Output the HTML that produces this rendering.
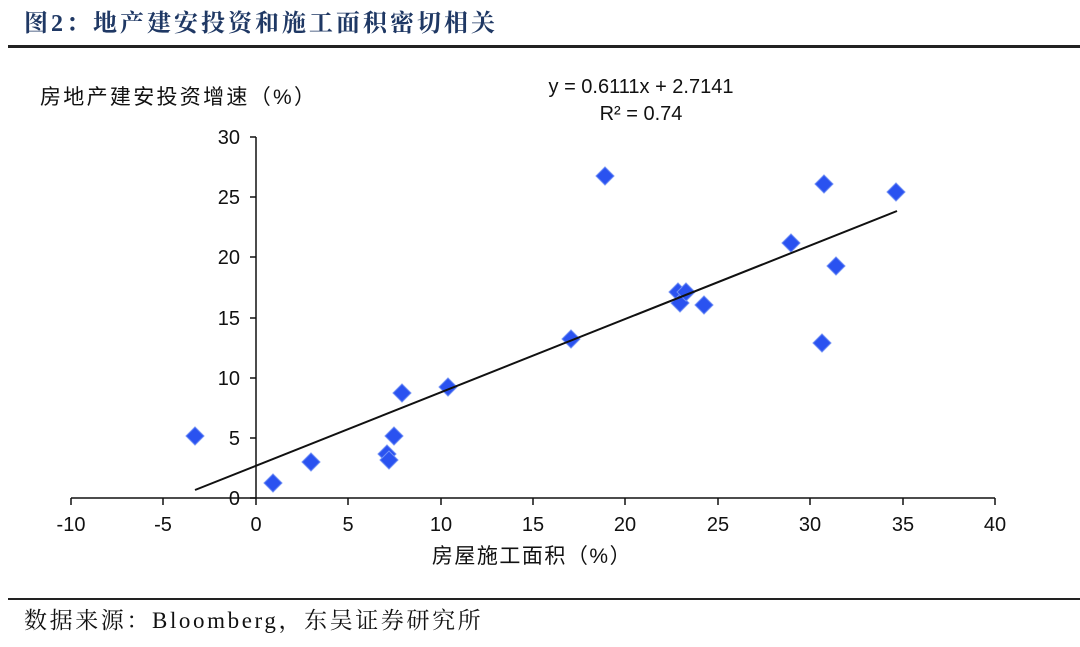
<!DOCTYPE html>
<html><head><meta charset="utf-8"><style>
body{margin:0;background:#fff;width:1080px;height:642px;overflow:hidden}
</style></head><body>
<svg width="1080" height="642" xmlns="http://www.w3.org/2000/svg" font-family="Liberation Sans, Noto Sans CJK SC, sans-serif">
<text x="24" y="31" font-family="Liberation Serif, Noto Serif CJK SC, serif" font-weight="bold" font-size="24" letter-spacing="3" fill="#1f3864">图2：地产建安投资和施工面积密切相关</text>
<rect x="8" y="45" width="1072" height="3" fill="#222"/>
<text x="40" y="104" font-size="21" letter-spacing="2.3" fill="#111">房地产建安投资增速（%）</text>
<text x="641" y="93" font-size="20" text-anchor="middle" fill="#111">y = 0.6111x + 2.7141</text>
<text x="641" y="120" font-size="20" text-anchor="middle" fill="#111">R² = 0.74</text>
<g stroke="#111" stroke-width="1.5" fill="none">
<line x1="256" y1="137" x2="256" y2="498"/>
<line x1="71" y1="498" x2="995" y2="498"/>
<path d="M250 137H256M250 197H256M250 257H256M250 318H256M250 378H256M250 438H256M250 498H256"/>
<path d="M71 498V505M163 498V505M256 498V505M348 498V505M441 498V505M533 498V505M625 498V505M718 498V505M810 498V505M903 498V505M995 498V505"/>
</g>
<g font-size="20" fill="#111" text-anchor="end">
<text x="240" y="144">30</text><text x="240" y="204">25</text><text x="240" y="264">20</text><text x="240" y="325">15</text><text x="240" y="385">10</text><text x="240" y="445">5</text><text x="240" y="505">0</text>
</g>
<g font-size="20" fill="#111" text-anchor="middle">
<text x="71" y="531">-10</text><text x="163" y="531">-5</text><text x="256" y="531">0</text><text x="348" y="531">5</text><text x="441" y="531">10</text><text x="533" y="531">15</text><text x="625" y="531">20</text><text x="718" y="531">25</text><text x="810" y="531">30</text><text x="903" y="531">35</text><text x="995" y="531">40</text>
</g>
<text x="532" y="563" font-size="21" letter-spacing="1.5" text-anchor="middle" fill="#111">房屋施工面积（%）</text>
<g fill="#2a52f0" stroke="#6f8ff5" stroke-width="1">
<path d="M0 -9L9 0L0 9L-9 0Z" transform="translate(195,436)"/>
<path d="M0 -9L9 0L0 9L-9 0Z" transform="translate(273,483)"/>
<path d="M0 -9L9 0L0 9L-9 0Z" transform="translate(311,462)"/>
<path d="M0 -9L9 0L0 9L-9 0Z" transform="translate(387,454)"/>
<path d="M0 -9L9 0L0 9L-9 0Z" transform="translate(389,460)"/>
<path d="M0 -9L9 0L0 9L-9 0Z" transform="translate(394,436)"/>
<path d="M0 -9L9 0L0 9L-9 0Z" transform="translate(402,393)"/>
<path d="M0 -9L9 0L0 9L-9 0Z" transform="translate(448,387)"/>
<path d="M0 -9L9 0L0 9L-9 0Z" transform="translate(571,339)"/>
<path d="M0 -9L9 0L0 9L-9 0Z" transform="translate(605,176)"/>
<path d="M0 -9L9 0L0 9L-9 0Z" transform="translate(678,292)"/>
<path d="M0 -9L9 0L0 9L-9 0Z" transform="translate(680,303)"/>
<path d="M0 -9L9 0L0 9L-9 0Z" transform="translate(686,292)"/>
<path d="M0 -9L9 0L0 9L-9 0Z" transform="translate(704,305)"/>
<path d="M0 -9L9 0L0 9L-9 0Z" transform="translate(791,243)"/>
<path d="M0 -9L9 0L0 9L-9 0Z" transform="translate(822,343)"/>
<path d="M0 -9L9 0L0 9L-9 0Z" transform="translate(824,184)"/>
<path d="M0 -9L9 0L0 9L-9 0Z" transform="translate(836,266)"/>
<path d="M0 -9L9 0L0 9L-9 0Z" transform="translate(896,192)"/>
</g>
<line x1="195" y1="490" x2="897" y2="211" stroke="#111" stroke-width="2"/>
<rect x="8" y="598" width="1072" height="2" fill="#222"/>
<text x="24" y="628" font-family="Liberation Serif, Noto Serif CJK SC, serif" font-size="23" letter-spacing="2.6" fill="#111">数据来源：Bloomberg，东吴证券研究所</text>
</svg>
</body></html>
